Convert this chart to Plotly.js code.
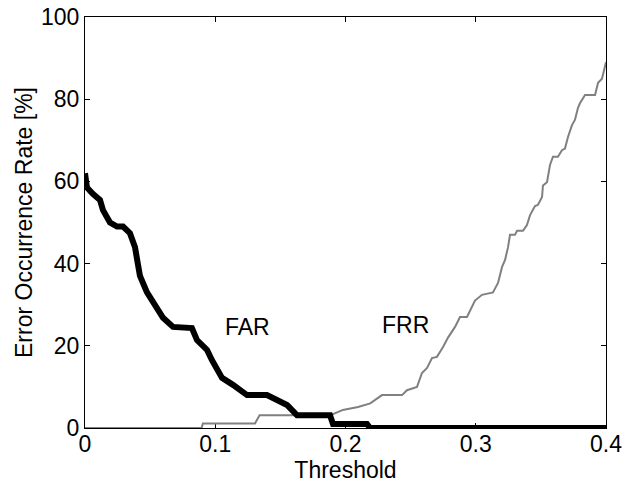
<!DOCTYPE html>
<html>
<head>
<meta charset="utf-8">
<script src="https://cdn.plot.ly/plotly-3.0.1.min.js"></script>
<style>html,body{margin:0;padding:0;background:#fff;}#chart{width:626px;height:487px;}</style>
</head>
<body>
<div id="chart"></div>
<script>
var farX = [0, 0.0015, 0.006, 0.0115, 0.0138, 0.0192, 0.0246, 0.0292, 0.0345, 0.0384, 0.04, 0.0422, 0.0476, 0.0553, 0.0599, 0.0676, 0.0821, 0.086, 0.0937, 0.0975, 0.1013, 0.1052, 0.1136, 0.1213, 0.1244, 0.1397, 0.1474, 0.1551, 0.1612, 0.1628, 0.1881, 0.1904, 0.2165, 0.2188, 0.4];
var farY = [62, 58.5, 57, 55.5, 53, 50, 49, 49, 47.4, 44, 41, 37, 33, 29.5, 26.8, 24.6, 24.3, 21.4, 19, 16.5, 14, 12.2, 10.5, 8.5, 8, 8, 6.8, 5.6, 3.6, 3.1, 3.1, 1, 1, 0, 0];

var frrX = [0, 0.0895, 0.0905, 0.1305, 0.134, 0.1895, 0.190, 0.198, 0.2096, 0.219, 0.228, 0.2434, 0.2472, 0.2549, 0.2587, 0.2626, 0.2664, 0.2702, 0.2749, 0.2787, 0.2841, 0.2879, 0.2933, 0.2971, 0.2994, 0.3048, 0.3132, 0.3171, 0.3202, 0.3225, 0.3248, 0.3263, 0.3301, 0.3317, 0.3363, 0.3393, 0.3417, 0.3455, 0.3478, 0.3509, 0.3516, 0.3547, 0.357, 0.3593, 0.3631, 0.3662, 0.3685, 0.3708, 0.3739, 0.3762, 0.3785, 0.38, 0.3839, 0.3916, 0.3939, 0.3969, 0.3992, 0.4];
var frrY = [0, 0, 1.1, 1.1, 3.1, 3.1, 3.3, 4.4, 5.1, 6, 8, 8, 9.2, 10, 13.4, 14.6, 17, 17.3, 19.7, 22, 24.6, 27, 27, 29.5, 31, 32.4, 33, 35.3, 39.2, 40.9, 44, 47, 47, 48, 48, 49.4, 51.8, 54, 54.3, 56.2, 59, 59.8, 64, 66, 66, 67.6, 68, 70.8, 73.7, 75, 77.9, 79, 81, 81, 84, 85, 87.8, 89];

var xTicks = [0, 0.1, 0.2, 0.3, 0.4];
var xTickText = ["0", "0.1", "0.2", "0.3", "0.4"];
var yTicks = [0, 20, 40, 60, 80, 100];
var yTickText = ["0", "20", "40", "60", "80", "100"];

var labelFAR = {x: 0.125, y: 24.6, text: "FAR"};
var labelFRR = {x: 0.2457, y: 25, text: "FRR"};

var font = "Liberation Sans, Arial, sans-serif";
var fs = 23;

var traces = [
  {x: frrX, y: frrY, mode: "lines", line: {color: "#808080", width: 2}, hoverinfo: "none"},
  {x: farX, y: farY, mode: "lines", line: {color: "#000000", width: 6}, hoverinfo: "none"}
];

var layout = {
  width: 626, height: 487,
  margin: {l: 85, r: 20, t: 17, b: 59},
  paper_bgcolor: "#fff", plot_bgcolor: "#fff",
  showlegend: false,
  font: {family: font, size: fs, color: "#000"},
  xaxis: {
    range: [0, 0.4], tickvals: xTicks, ticktext: xTickText,
    ticks: "inside", ticklen: 5, tickwidth: 1, tickcolor: "#000",
    showline: true, linecolor: "#000", linewidth: 1, mirror: "ticks",
    showgrid: false, zeroline: false, layer: "below traces",
    ticklabelstandoff: -5,
    tickfont: {family: font, size: fs, color: "#000"},
    title: {text: "Threshold", font: {family: font, size: fs, color: "#000"}, standoff: 0}
  },
  yaxis: {
    range: [0, 100], tickvals: yTicks, ticktext: yTickText,
    ticks: "inside", ticklen: 5, tickwidth: 1, tickcolor: "#000",
    showline: true, linecolor: "#000", linewidth: 1, mirror: "ticks",
    showgrid: false, zeroline: false, layer: "below traces",
    tickfont: {family: font, size: fs, color: "#000"},
    title: {text: "Error Occurrence Rate [%]", font: {family: font, size: fs, color: "#000"}, standoff: 1}
  },
  annotations: [
    {x: labelFAR.x, y: labelFAR.y, text: labelFAR.text, showarrow: false, font: {family: font, size: fs, color: "#000"}},
    {x: labelFRR.x, y: labelFRR.y, text: labelFRR.text, showarrow: false, font: {family: font, size: fs, color: "#000"}}
  ]
};

Plotly.newPlot("chart", traces, layout, {displayModeBar: false, staticPlot: true});
</script>
</body>
</html>
